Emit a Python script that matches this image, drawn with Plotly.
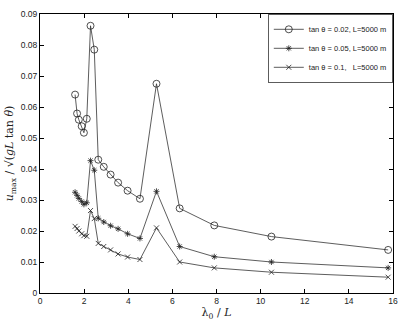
import plotly.graph_objects as go

# lambda0 / L
x_vals = [1.59, 1.68, 1.76, 1.89, 1.99, 2.12, 2.29, 2.46, 2.64, 2.89, 3.2, 3.54,
          3.97, 4.53, 5.28, 6.33, 7.9, 10.49, 15.78]

# u_max / sqrt(gL tan theta)
u_002 = [0.064, 0.0579, 0.0559, 0.0538, 0.0517, 0.0562, 0.0862, 0.0785, 0.0430,
         0.0407, 0.0382, 0.0356, 0.0330, 0.0304, 0.0675, 0.0273, 0.0218, 0.0182, 0.0139]
u_005 = [0.0325, 0.0315, 0.0305, 0.0295, 0.0286, 0.0291, 0.0427, 0.0396, 0.0241,
         0.0229, 0.0217, 0.0207, 0.0191, 0.0176, 0.0328, 0.0150, 0.0117, 0.0100, 0.0081]
u_01 = [0.0215, 0.0208, 0.0200, 0.0191, 0.0185, 0.0183, 0.0266, 0.0240, 0.0160,
        0.0150, 0.0139, 0.0126, 0.0116, 0.0108, 0.0210, 0.0100, 0.0081, 0.0067, 0.0051]

names = ["tan θ = 0.02, L=5000 m", "tan θ = 0.05, L=5000 m", "tan θ = 0.1,   L=5000 m"]
symbols = ["circle-open", "asterisk-open", "x-thin-open"]
sizes = [7, 5, 5]

fig = go.Figure()
for y, name, sym, sz in zip([u_002, u_005, u_01], names, symbols, sizes):
    fig.add_trace(go.Scatter(x=x_vals, y=y, mode="lines+markers", name=name,
                             line=dict(color="#333333", width=0.8),
                             marker=dict(symbol=sym, size=sz, color="#222222",
                                         line=dict(width=0.8, color="#222222"))))

axis_style = dict(showline=True, linecolor="black", linewidth=1, mirror="ticks",
                  ticks="inside", ticklen=4, tickcolor="black", showgrid=False,
                  zeroline=False, tickfont=dict(size=8.5, color="#222"))

fig.update_xaxes(range=[0, 16], dtick=2, title=dict(text="λ<sub>0</sub> / <i>L</i>",
                 font=dict(size=11, family="DejaVu Serif"), standoff=2), **axis_style)
fig.update_yaxes(range=[0, 0.09], dtick=0.01,
                 title=dict(text="<i>u</i><sub>max</sub> / √(<i>gL</i> tan <i>θ</i>)",
                            font=dict(size=11, family="DejaVu Serif"), standoff=4),
                 **axis_style)

fig.update_layout(
    width=407, height=325,
    margin=dict(l=36, r=9, t=9, b=28),
    plot_bgcolor="white", paper_bgcolor="white",
    font=dict(family="Liberation Sans, Arial", size=9, color="#222"),
    legend=dict(x=1, y=1, xanchor="right", yanchor="top",
                bordercolor="#333", borderwidth=0.8, bgcolor="white",
                font=dict(size=7.5, color="#222"), tracegroupgap=0, itemwidth=30),
    showlegend=True,
)

fig.write_html("out.html", config={"displayModeBar": False},
               post_script="document.body.style.margin='0';")
